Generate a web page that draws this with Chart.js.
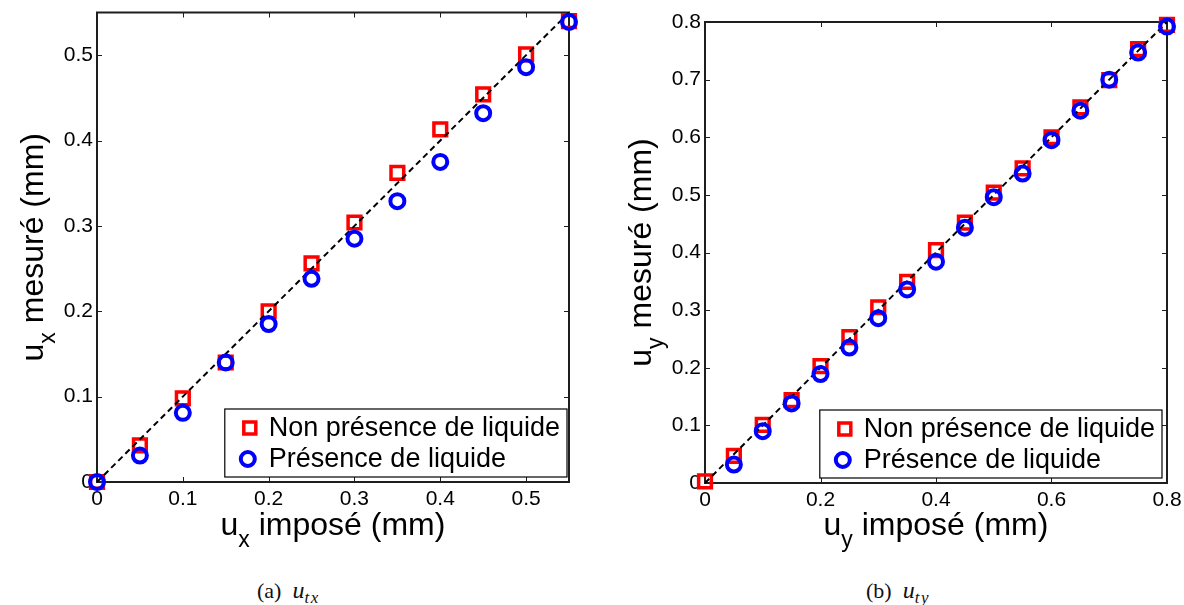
<!DOCTYPE html>
<html><head><meta charset="utf-8">
<script src="https://cdn.jsdelivr.net/npm/chart.js@4.4.1/dist/chart.umd.min.js"></script>
<style>
html,body{margin:0;padding:0;background:#fff;}
body{width:1184px;height:605px;overflow:hidden;position:relative;}
canvas{position:absolute;top:0;}
#ca{left:0px} #cb{left:592px}
.cap{position:absolute;font-family:"Liberation Serif","DejaVu Serif",serif;font-size:22px;color:#111;white-space:pre;line-height:22px;}
.cap i{font-style:italic;font-size:24px}
.cap sub{font-size:17px;vertical-align:-5px;line-height:0;letter-spacing:1.5px}
</style></head><body>
<canvas id="ca" width="592" height="560"></canvas>
<canvas id="cb" width="592" height="560"></canvas>
<div class="cap" style="left:257px;top:579px">(a)  <i>u<sub>tx</sub></i></div>
<div class="cap" style="left:866px;top:579px">(b)  <i>u<sub>ty</sub></i></div>
<script>
// ---------- DATA ----------
const seriesNames = ["Non présence de liquide", "Présence de liquide"];

// (a) u_x
const xA    = [0, 0.05, 0.10, 0.15, 0.20, 0.25, 0.30, 0.35, 0.40, 0.45, 0.50, 0.55];
const redA  = [0, 0.043, 0.098, 0.140, 0.200, 0.256, 0.304, 0.362, 0.413, 0.454, 0.501, 0.540];
const blueA = [0, 0.031, 0.081, 0.140, 0.185, 0.238, 0.285, 0.329, 0.375, 0.432, 0.486, 0.539];
const refA  = [0, 0.55];
const xTicksA = [0, 0.1, 0.2, 0.3, 0.4, 0.5];
const yTicksA = [0, 0.1, 0.2, 0.3, 0.4, 0.5];
const rangeA = [0, 0.55];

// (b) u_y
const xB    = [0, 0.05, 0.10, 0.15, 0.20, 0.25, 0.30, 0.35, 0.40, 0.45, 0.50, 0.55, 0.60, 0.65, 0.70, 0.75, 0.80];
const redB  = [0.003, 0.047, 0.101, 0.144, 0.203, 0.253, 0.305, 0.349, 0.404, 0.452, 0.504, 0.546, 0.600, 0.652, 0.699, 0.753, 0.795];
const blueB = [null, 0.032, 0.090, 0.138, 0.189, 0.235, 0.286, 0.336, 0.384, 0.443, 0.496, 0.537, 0.595, 0.646, 0.700, 0.747, 0.792];
const refB  = [0, 0.8];
const xTicksB = [0, 0.2, 0.4, 0.6, 0.8];
const yTicksB = [0, 0.1, 0.2, 0.3, 0.4, 0.5, 0.6, 0.7, 0.8];
const rangeB = [0, 0.8];

// ---------- STYLE ----------
const SANS = '"Liberation Sans", Arial, Helvetica, sans-serif';
const RED = '#ff0000', BLUE = '#0000ff';

function pts(xs, ys){ return xs.map((x,i)=>({x:x, y:ys[i]})); }
function fmt(v){ return String(+v.toFixed(2)); }

function drawParts(ctx, parts, cx, by){
  let total = 0;
  parts.forEach(p=>{ ctx.font = p.size+'px '+SANS; p.w = ctx.measureText(p.t).width; total += p.w; });
  let x = cx - total/2;
  ctx.textAlign='left'; ctx.textBaseline='alphabetic'; ctx.fillStyle='#000';
  parts.forEach(p=>{ ctx.font = p.size+'px '+SANS; ctx.fillText(p.t, x, by + (p.dy||0)); x += p.w; });
}

const decorPlugin = {
  id: 'decor',
  beforeDatasetsDraw(chart){
    const {ctx, chartArea:a, scales:{x, y}} = chart;
    ctx.save();
    ctx.strokeStyle = '#1e1e1e'; ctx.lineWidth = 1;
    ctx.beginPath();
    x.ticks.forEach(t=>{ const p = Math.round(x.getPixelForValue(t.value))+0.5;
      ctx.moveTo(p, a.bottom); ctx.lineTo(p, a.bottom-5);
      ctx.moveTo(p, a.top); ctx.lineTo(p, a.top+5); });
    y.ticks.forEach(t=>{ const p = Math.round(y.getPixelForValue(t.value))+0.5;
      ctx.moveTo(a.left, p); ctx.lineTo(a.left+5, p);
      ctx.moveTo(a.right, p); ctx.lineTo(a.right-5, p); });
    ctx.stroke();
    ctx.lineWidth = 2;
    ctx.strokeRect(a.left, a.top, a.right-a.left, a.bottom-a.top);
    ctx.restore();
  },
  afterDatasetsDraw(chart, args, opts){
    const {ctx, chartArea:a} = chart;
    ctx.save();
    ctx.font = '27px '+SANS;
    const tw = Math.max(...seriesNames.map(s=>ctx.measureText(s).width));
    const bw = 44 + tw + 7, bh = 68;
    const bx = a.right - opts.legRight - bw, by = a.bottom - opts.legBottom - bh;
    ctx.fillStyle = '#fff'; ctx.fillRect(bx, by, bw, bh);
    ctx.strokeStyle = '#000'; ctx.lineWidth = 1.2; ctx.strokeRect(bx, by, bw, bh);
    const rows = [by + 19, by + 50];
    const mx = bx + 25;
    ctx.strokeStyle = RED; ctx.lineWidth = 3.5;
    ctx.strokeRect(mx-6, rows[0]-6, 12, 12);
    ctx.strokeStyle = BLUE; ctx.lineWidth = 4;
    ctx.beginPath(); ctx.arc(mx-2, rows[1], 7, 0, Math.PI*2); ctx.stroke();
    ctx.fillStyle = '#000'; ctx.textAlign='left'; ctx.textBaseline='middle';
    seriesNames.forEach((s,i)=>ctx.fillText(s, bx + 44, rows[i] + 1));
    ctx.restore();
  },
  afterDraw(chart, args, opts){
    const {ctx, chartArea:a} = chart;
    ctx.save();
    const sub = opts.sub;
    drawParts(ctx, [{t:'u',size:32},{t:sub,size:23,dy:12},{t:' imposé (mm)',size:32}], (a.left+a.right)/2, 535);
    ctx.translate(a.left - 54, (a.top+a.bottom)/2);
    ctx.rotate(-Math.PI/2);
    drawParts(ctx, [{t:'u',size:32},{t:sub,size:23,dy:12},{t:' mesuré (mm)',size:32}], 0, 0);
    ctx.restore();
  }
};

function makeChart(id, xs, reds, blues, ref, range, xT, yT, pad, sub, leg){
  return new Chart(document.getElementById(id), {
    type: 'scatter',
    data: { datasets: [
      { label: seriesNames[1], data: pts(xs, blues), pointStyle:'circle', pointRadius:7, pointHoverRadius:7,
        borderColor: BLUE, backgroundColor:'rgba(0,0,0,0)', pointBorderWidth:4, borderWidth:4, showLine:false, order:0, clip:false },
      { label: 'ref', data: pts(ref, ref), showLine:true, borderColor:'#000', borderWidth:2, borderDash:[6,4],
        pointRadius:0, order:1, clip:false },
      { label: seriesNames[0], data: pts(xs, reds), pointStyle:'rect', pointRadius:9, pointHoverRadius:9,
        borderColor: RED, backgroundColor:'rgba(0,0,0,0)', pointBorderWidth:3.5, borderWidth:3.5, showLine:false, order:2, clip:false }
    ]},
    options: {
      responsive:false, animation:false, devicePixelRatio:1,
      layout:{ padding:{ top:pad.top, right:pad.right, left:0, bottom:0 } },
      plugins:{ legend:{display:false}, tooltip:{enabled:false}, decor:{sub:sub, legRight:leg.r, legBottom:leg.b} },
      scales:{
        x:{ type:'linear', min:range[0], max:range[1],
            grid:{display:false, drawTicks:false}, border:{display:false},
            afterBuildTicks: s=>{ s.ticks = xT.map(v=>({value:v})); },
            afterFit: s=>{ s.height = pad.xh; s.paddingLeft = 0; s.paddingRight = 0; },
            ticks:{ padding:5, color:'#000', font:{family:SANS, size:21}, maxRotation:0, autoSkip:false, callback:v=>fmt(v) } },
        y:{ type:'linear', min:range[0], max:range[1],
            grid:{display:false, drawTicks:false}, border:{display:false},
            afterBuildTicks: s=>{ s.ticks = yT.map(v=>({value:v})); },
            afterFit: s=>{ s.width = pad.yw; s.paddingTop = 0; s.paddingBottom = 0; },
            ticks:{ padding:4, color:'#000', font:{family:SANS, size:21}, autoSkip:false, callback:v=>fmt(v) } }
      }
    },
    plugins:[decorPlugin]
  });
}

makeChart('ca', xA, redA, blueA, refA, rangeA, xTicksA, yTicksA, {top:10, right:23, xh:78, yw:97}, 'x', {r:2, b:5});
makeChart('cb', xB, redB, blueB, refB, rangeB, xTicksB, yTicksB, {top:22, right:17, xh:77, yw:113}, 'y', {r:5, b:5});
</script>
</body></html>
